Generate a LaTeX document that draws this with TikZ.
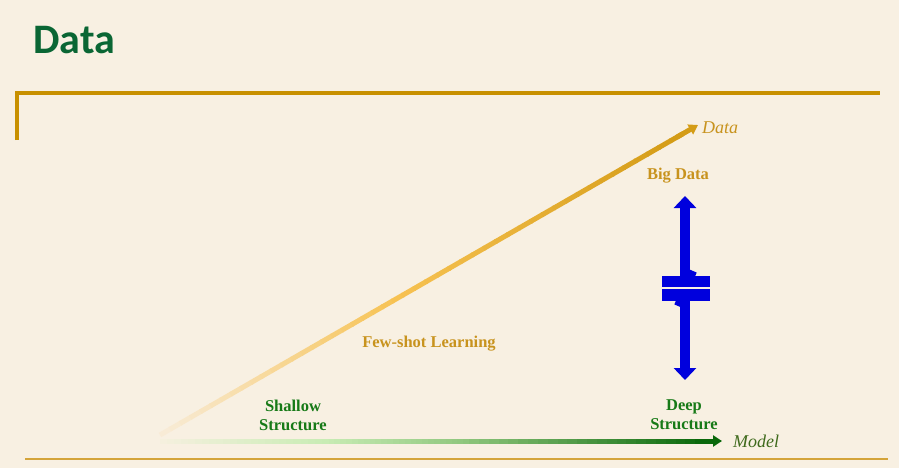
\documentclass[tikz,border=0pt]{standalone}
\usepackage{fontspec}
\setmainfont{Liberation Serif}
\newfontfamily\titlefont{Carlito}
\usetikzlibrary{arrows.meta,calc}

\definecolor{bgcream}{HTML}{F8F0E2}
\definecolor{titlegreen}{HTML}{0A6634}
\definecolor{barGold}{HTML}{C89000}
\definecolor{lineGold}{HTML}{D4A43A}
\definecolor{labelGold}{HTML}{C8931E}
\definecolor{textGreen}{HTML}{177A17}
\definecolor{modelGreen}{HTML}{3F6A1C}
\definecolor{arrowBlue}{HTML}{0000DD}
\definecolor{goldA}{HTML}{F8EDDC}
\definecolor{goldB}{HTML}{F7C252}
\definecolor{goldC}{HTML}{D49C16}
\definecolor{greenA}{HTML}{F7F0E0}
\definecolor{greenB}{HTML}{C8ECB4}
\definecolor{greenC}{HTML}{8EC67C}
\definecolor{greenD}{HTML}{0A680A}

% one piece of a colour ramp along a thick line
\newcommand\rampPiece[7]{%
  \foreach \k in {1,...,24}{
    \pgfmathsetmacro\ta{#3+(#4-#3)*(\k-1)/24}
    \pgfmathsetmacro\tb{#3+(#4-#3)*\k/24+0.002}
    \pgfmathtruncatemacro\pc{100*\k/24}
    \draw[line width=#7, draw=#6!\pc!#5] ($(#1)!\ta!(#2)$) -- ($(#1)!\tb!(#2)$);
  }}

\tikzset{
  axislabel/.style={font=\fontsize{18}{20}\selectfont\itshape, inner sep=0pt},
  boldlabel/.style={font=\fontsize{16.5}{19}\selectfont\bfseries, inner sep=0pt, align=center},
}

\begin{document}
\begin{tikzpicture}[x=1pt,y=-1pt]
	\fill[bgcream] (0,0) rectangle (899,468);
	\useasboundingbox (0,0) rectangle (899,468);

	% title and frame
	\node[anchor=base west, inner sep=0pt, text=titlegreen, font=\titlefont\fontsize{42}{46}\selectfont\bfseries] (title) at (33,54) {Data};
	\draw[barGold, line width=4pt] (17,140) -- (17,93) -- (880,93);
	\draw[lineGold, line width=2pt] (25,459) -- (888,459);

	% axes
	\coordinate (origin) at (160,435);
	\coordinate (datatip) at (698,125);
	\coordinate (modelstart) at (160,441);
	\coordinate (modeltip) at (722,441);

	\rampPiece{origin}{datatip}{0}{0.45}{goldA}{goldB}{5pt}
	\rampPiece{origin}{datatip}{0.45}{0.97}{goldB}{goldC}{5pt}
	\draw[goldC, line width=5pt, -{Triangle[width=11pt,length=9pt]}] ($(origin)!0.96!(datatip)$) -- (datatip);

	\rampPiece{modelstart}{modeltip}{0}{0.3}{greenA}{greenB}{5pt}
	\rampPiece{modelstart}{modeltip}{0.3}{0.55}{greenB}{greenC}{5pt}
	\rampPiece{modelstart}{modeltip}{0.55}{0.97}{greenC}{greenD}{5pt}
	\draw[greenD, line width=5pt, -{Triangle[width=11pt,length=9pt]}] ($(modelstart)!0.96!(modeltip)$) -- (modeltip);

	\node[axislabel, anchor=base west, text=labelGold] (datalbl) at (702,133) {Data};
	\node[axislabel, anchor=base west, text=modelGreen] (modellbl) at (733,447) {Model};

	% labels
	\node[boldlabel, anchor=base, text=labelGold] (bigdata) at (678,179) {Big Data};
	\node[boldlabel, anchor=base, text=labelGold] (fewshot) at (429,347) {Few-shot Learning};
	\node[boldlabel, text=textGreen] (shallow) at (293,415) {Shallow\\Structure};
	\node[boldlabel, text=textGreen] (deep) at (684,415) {Deep\\Structure};

	% not-equal arrow
	\coordinate (bluetop) at (685,196);
	\coordinate (bluebot) at (685,380);
	\draw[arrowBlue, line width=10pt, {Triangle[width=22pt,length=12pt]}-{Triangle[width=22pt,length=12pt]}] (bluetop) -- (bluebot);
	\fill[arrowBlue] (662,276) rectangle (710,287);
	\fill[arrowBlue] (662,289) rectangle (710,301);
	\draw[arrowBlue, line width=8pt] (693,271) -- (678,306);
	\draw[bgcream, line width=1.5pt] (662,288) -- (710,288);
\end{tikzpicture}
\end{document}
